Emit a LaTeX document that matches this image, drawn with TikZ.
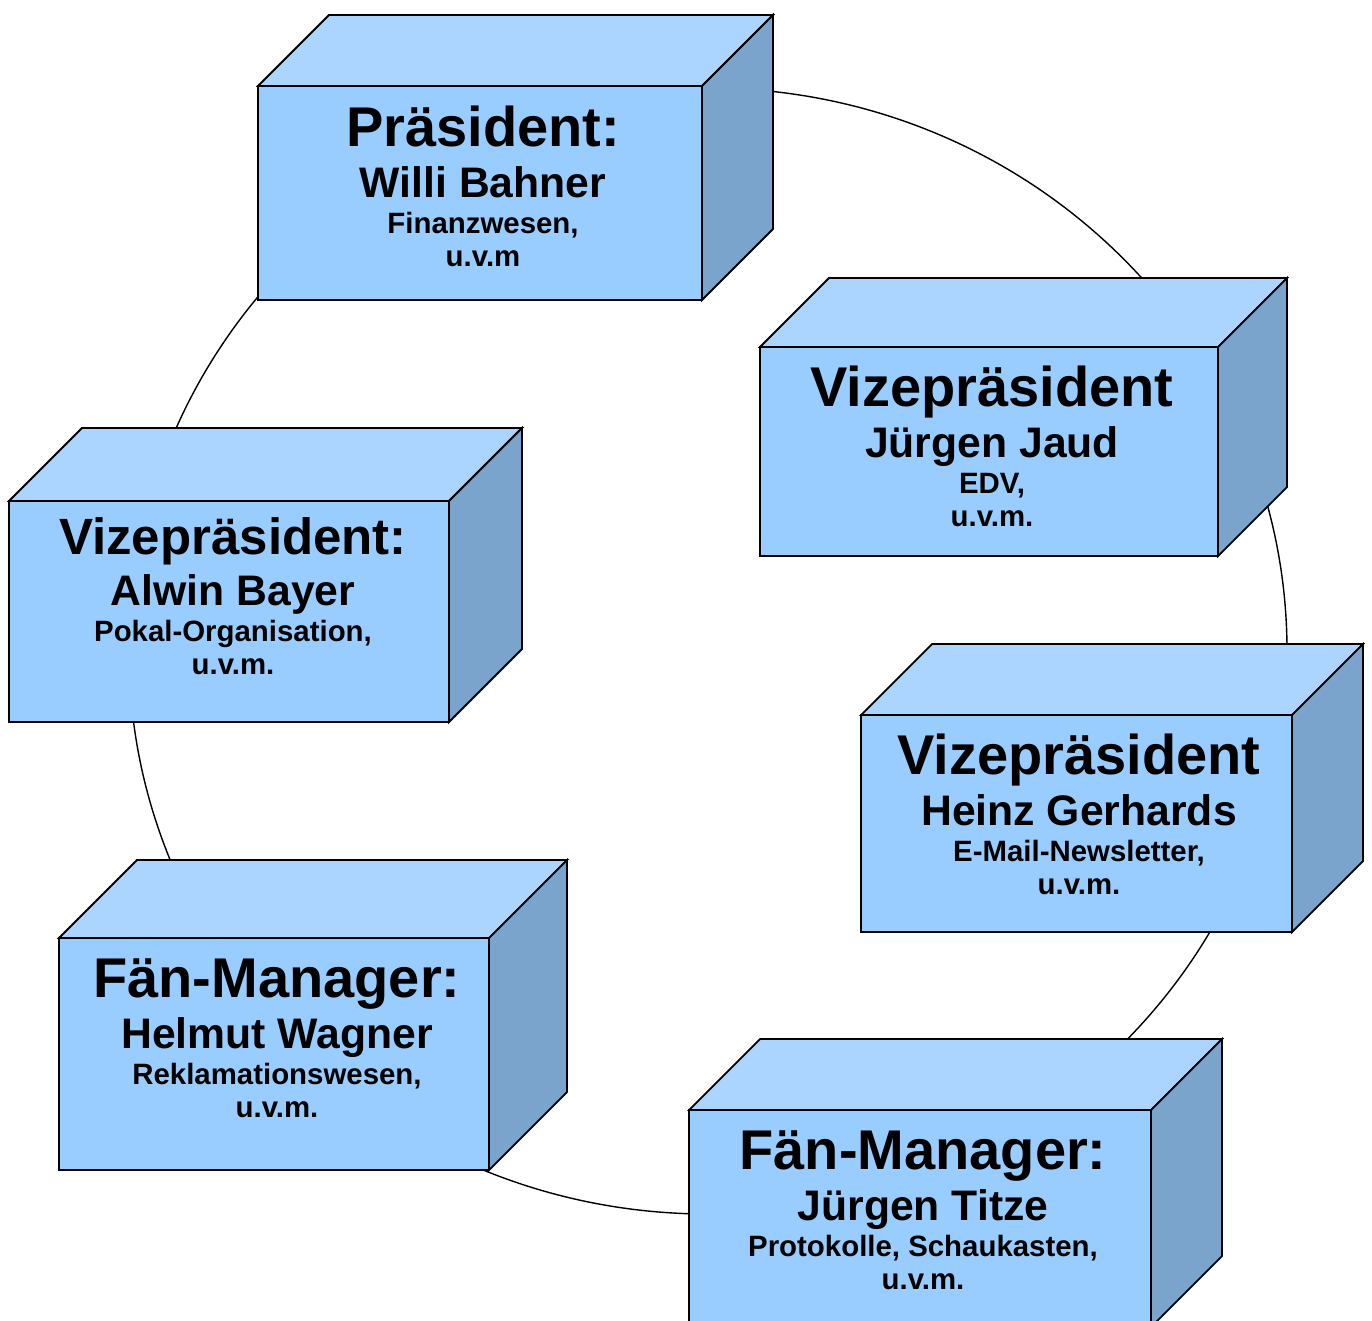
\documentclass[tikz,border=0pt]{standalone}
\usepackage{fontspec}
\setmainfont{Liberation Sans}
\definecolor{frontc}{RGB}{153,204,255}
\definecolor{topc}{RGB}{171,213,255}
\definecolor{sidec}{RGB}{122,164,204}
\tikzset{
  face/.style={draw=black, line width=1.8pt, line join=miter},
  ring/.style={draw=black, line width=1.4pt},
  txtbase/.style={anchor=base, inner sep=0pt, outer sep=0pt},
  nm/.style={txtbase, font=\bfseries\fontsize{42.7}{42.7}\selectfont},
  subl/.style={txtbase, font=\bfseries\fontsize{29.4}{29.4}\selectfont},
}
\newcommand{\bluecube}[6]{%
  \path[face, fill=topc] (#2,#3) -- (#2+#6,#3-#6) -- (#4+#6,#3-#6) -- (#4,#3) -- cycle;
  \path[face, fill=sidec] (#4,#3) -- (#4+#6,#3-#6) -- (#4+#6,#5-#6) -- (#4,#5) -- cycle;
  \node[face, fill=frontc, rectangle, inner sep=0pt, outer sep=0pt,
        minimum width={(#4-#2)*1pt}, minimum height={(#5-#3)*1pt},
        anchor=north west] (#1) at (#2,#3) {};
}
\newcommand{\cubetext}[8]{%
  \node[txtbase, font=\bfseries\fontsize{#4}{#4}\selectfont] (#1t) at (#2,#3) {#5};
  \node[nm] (#1n) at (#2,#3+51) {#6};
  \node[subl] (#1s) at (#2,#3+87) {#7};
  \node[subl] (#1u) at (#2,#3+120) {#8};
}
\begin{document}
\begin{tikzpicture}[x=1pt, y=-1pt]
  \useasboundingbox[fill=white] (0,0) rectangle (1372,1320);
  \coordinate (ringc) at (708,651);
  \draw[ring] (ringc) ellipse [x radius=579pt, y radius=563pt];

  \bluecube{pres}{258}{86}{702}{300}{71}
  \cubetext{pres}{483}{146}{56}{Präsident:}{Willi Bahner}{Finanzwesen,}{u.v.m}

  \bluecube{vpa}{760}{347}{1218}{556}{69}
  \cubetext{vpa}{992}{406}{56}{Vizepräsident}{Jürgen Jaud}{EDV,}{u.v.m.}

  \bluecube{vpb}{9}{501}{449}{722}{73}
  \cubetext{vpb}{233}{554}{51}{Vizepräsident:}{Alwin Bayer}{Pokal-Organisation,}{u.v.m.}

  \bluecube{vpc}{861}{715}{1292}{932}{71}
  \cubetext{vpc}{1079}{774}{56}{Vizepräsident}{Heinz Gerhards}{E-Mail-Newsletter,}{u.v.m.}

  \bluecube{fma}{59}{938}{489}{1170}{78}
  \cubetext{fma}{277}{997}{56}{Fän-Manager:}{Helmut Wagner}{Reklamationswesen,}{u.v.m.}

  \bluecube{fmb}{689}{1110}{1151}{1327}{71}
  \cubetext{fmb}{923}{1169}{56}{Fän-Manager:}{Jürgen Titze}{Protokolle, Schaukasten,}{u.v.m.}
\end{tikzpicture}
\end{document}
